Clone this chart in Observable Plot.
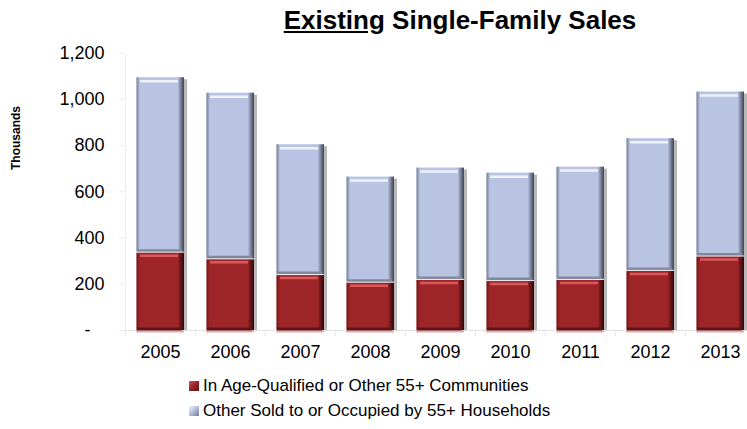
<!DOCTYPE html>
<html><head><meta charset="utf-8">
<script src="https://cdn.jsdelivr.net/npm/d3@7"></script>
<script src="https://cdn.jsdelivr.net/npm/@observablehq/plot@0.6"></script>
<style>
body{margin:0;background:#fff;font-family:"Liberation Sans",Arial,sans-serif;color:#000;}
#wrap{position:relative;width:747px;height:429px;overflow:hidden;}
#title{position:absolute;left:460px;top:4px;transform:translateX(-50%);font-size:26px;font-weight:bold;white-space:nowrap;line-height:32px;}
#ylab{position:absolute;left:16px;top:138px;transform:translate(-50%,-50%) rotate(-90deg);font-size:12px;font-weight:bold;white-space:nowrap;}
#chart{position:absolute;left:0;top:40px;}
.leg{position:absolute;left:189px;font-size:17px;white-space:nowrap;display:flex;align-items:center;height:20px;}
.sw{width:10px;height:10px;margin-right:4px;flex:none;}
g[aria-label="y-axis tick"]{stroke:#e8e8e8;}
</style>
</head><body>
<div id="wrap">
  <div id="title"><u>Existing</u> Single-Family Sales</div>
  <div id="ylab">Thousands</div>
  <div id="chart"></div>
  <div id="legend"></div>
</div>
<script>
const years = ["2005","2006","2007","2008","2009","2010","2011","2012","2013"];
const age55Communities = [339,310,242,209,221,216,221,260,322];
const otherHouseholds = [755,717,562,455,482,465,486,570,710];
const yTicks = [0,200,400,600,800,1000,1200];
const seriesNames = ["In Age-Qualified or Other 55+ Communities","Other Sold to or Occupied by 55+ Households"];
const seriesColors = ["#9e2528","#b9c4e2"];

const rows = years.map((year,i)=>({year, a: age55Communities[i], b: age55Communities[i] + otherHouseholds[i]}));
const step = (756.2 - 124) / years.length;

const chart = Plot.plot({
  width: 747,
  height: 330,
  marginLeft: 124,
  marginRight: 0,
  marginTop: 12.7,
  marginBottom: 40,
  x: {type: "band", domain: years, range: [124, 756.2], paddingInner: 0.317, paddingOuter: 0.1585, align: 0.5, label: null},
  y: {domain: [0, 1200], label: null},
  style: {fontFamily: "'Liberation Sans', Arial, sans-serif", background: "transparent", overflow: "visible"},
  marks: [
    Plot.ruleY([0], {stroke: "#e2e2e2"}),
    Plot.ruleX(years, {x: d => d, dx: -step/2, y1: 0, y2: -26, stroke: "#e6e6e6"}),
    Plot.ruleX([years[0]], {x: d => d, dx: -step/2, y1: -26, y2: 1200, stroke: "#ececec"}),
    Plot.tickY(rows, {x: "year", y: () => 0, dy: 1, stroke: "#e6a9a9", strokeWidth: 2}),
    Plot.barY(rows, {x: "year", y1: 0, y2: "b", fill: "#000", fillOpacity: 0.28, dx: 3, insetTop: 2}),
    Plot.barY(rows, {x: "year", y1: 0, y2: "a", fill: "url(#gRed)"}),
    Plot.barY(rows, {x: "year", y1: "a", y2: "b", fill: "url(#gBlue)"}),
    Plot.tickY(rows, {x: "year", y: "a", dy: 3.5, stroke: "#d9585b", strokeWidth: 2.5, insetLeft: 4, insetRight: 6}),
    Plot.tickY(rows, {x: "year", y: "b", dy: 3.5, stroke: "#eef2fb", strokeWidth: 2.5, insetLeft: 4, insetRight: 6}),
    Plot.tickY(rows, {x: "year", y: () => 0, dy: -1.5, stroke: "#5e1416", strokeWidth: 3, insetLeft: 1, insetRight: 2}),
    Plot.tickY(rows, {x: "year", y: "a", dy: -1.5, stroke: "#7f889c", strokeWidth: 3, insetLeft: 1, insetRight: 2}),
    Plot.tickY(rows, {x: "year", y: "a", dy: 0, stroke: "#eef0f6", strokeWidth: 1}),
    Plot.axisX({tickSize: 0, tickPadding: 15, fontSize: 18, label: null}),
    Plot.axisY({ticks: yTicks, tickSize: 5, tickPadding: 15, fontSize: 18, label: null,
      tickFormat: d => d === 0 ? "-\u2002\u00a0" : d3.format(",")(d)})
  ]
});

const defs = document.createElementNS("http://www.w3.org/2000/svg", "defs");
defs.innerHTML = `
<linearGradient id="gRed" x1="0" x2="1" y1="0" y2="0">
  <stop offset="0" stop-color="#c9a0a0"/>
  <stop offset="0.03" stop-color="#7e1c1f"/>
  <stop offset="0.08" stop-color="#9e2528"/>
  <stop offset="0.87" stop-color="#9e2528"/>
  <stop offset="0.94" stop-color="#5c1315"/>
  <stop offset="1" stop-color="#2b0a0b"/>
</linearGradient>
<linearGradient id="gBlue" x1="0" x2="1" y1="0" y2="0">
  <stop offset="0" stop-color="#c5cad6"/>
  <stop offset="0.03" stop-color="#8790a6"/>
  <stop offset="0.08" stop-color="#b9c4e2"/>
  <stop offset="0.87" stop-color="#b9c4e2"/>
  <stop offset="0.94" stop-color="#717a90"/>
  <stop offset="1" stop-color="#3f4452"/>
</linearGradient>`;
chart.insertBefore(defs, chart.firstChild);
document.getElementById("chart").appendChild(chart);

const legend = document.getElementById("legend");
const swatchBg = [
  "linear-gradient(135deg,#d0585b 0%,#9e2528 45%,#5c1315 100%)",
  "linear-gradient(135deg,#eef2fb 0%,#b9c4e2 45%,#6f788e 100%)"
];
const legendTops = [376, 401];
seriesNames.forEach((name, i) => {
  const item = document.createElement("div");
  item.className = "leg";
  item.style.top = legendTops[i] + "px";
  const sw = document.createElement("span");
  sw.className = "sw";
  sw.style.background = swatchBg[i];
  sw.style.backgroundColor = seriesColors[i];
  const tx = document.createElement("span");
  tx.textContent = name;
  item.appendChild(sw);
  item.appendChild(tx);
  legend.appendChild(item);
});
</script>
</body></html>
